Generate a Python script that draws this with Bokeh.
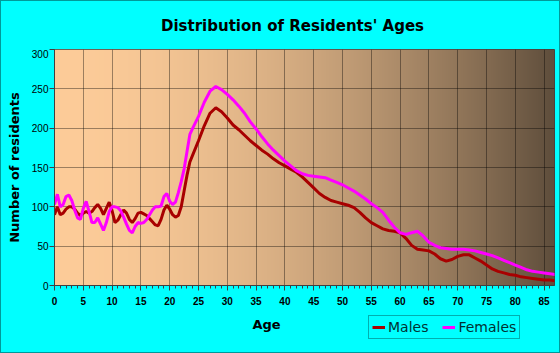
import numpy as np
from bokeh.plotting import figure
from bokeh.layouts import column
from bokeh.models import Label, Legend, LegendItem, FixedTicker, Range1d
from bokeh.embed import file_html
from bokeh.resources import INLINE

# ---- data ----
ages = [0, 0.5, 1, 1.5, 2, 2.5, 3, 3.5, 4, 4.5, 5, 5.5, 6, 6.5, 7, 7.5, 8, 8.5, 9, 9.5,
        10, 10.5, 11, 11.5, 12, 12.5, 13, 13.5, 14, 14.5, 15, 15.5, 16, 16.5, 17, 17.5,
        18, 18.5, 19, 19.5, 20, 20.5, 21, 21.5, 22, 22.5, 23, 23.5,
        24, 25, 26, 27, 28, 29, 30, 31, 32, 33, 34, 35, 36, 37, 38, 39, 40, 41, 42, 43,
        44, 45, 46, 47, 48, 49, 50, 51, 52, 53, 54, 55, 56, 57, 58, 59, 60, 61, 62, 63,
        64, 65, 66, 67, 68, 69, 70, 71, 72, 73, 74, 75, 76, 77, 78, 79, 80, 81, 82, 83,
        84, 85, 86, 87]

males = [90, 100, 90, 92, 97, 100, 100, 97, 92, 89, 92, 94, 92, 94, 99, 103, 98, 90, 98, 106,
         95, 80, 83, 90, 96, 92, 84, 80, 85, 92, 93, 91, 89, 85, 81, 77,
         76, 84, 96, 102, 97, 90, 87, 89, 100, 120, 140, 157,
         166, 184, 203, 219, 226, 221, 213, 204, 198, 191, 184, 178, 172, 167, 161, 156, 152, 148, 144, 138,
         131, 124, 117, 112, 108, 106, 104, 102, 99, 93, 86, 80, 76, 72, 70, 69, 67, 60, 51, 46,
         45, 44, 40, 34, 31, 33, 37, 39, 39, 35, 31, 26, 21, 18, 16, 14, 13, 11, 10, 9,
         8, 7, 7, 6]

females = [103, 116, 100, 103, 113, 115, 108, 96, 86, 84, 98, 107, 94, 80, 80, 86, 78, 70, 80, 94,
           100, 100, 99, 95, 87, 78, 70, 67, 75, 80, 79, 80, 84, 90, 96, 100,
           100, 101, 113, 117, 107, 103, 106, 118, 132, 148, 170, 192,
           200, 215, 233, 247, 253, 249, 243, 236, 228, 219, 208, 199, 189, 180, 172, 165, 158, 152, 146, 142,
           140, 139, 138, 137, 134, 131, 128, 124, 120, 115, 110, 104, 99, 93, 83, 74, 67, 65, 67, 69,
           63, 55, 51, 48, 47, 46, 46, 46, 45, 44, 42, 40, 38, 35, 32, 29, 26, 23, 20, 18,
           17, 16, 15, 14]

x_ticks = [0, 5, 10, 15, 20, 25, 30, 35, 40, 45, 50, 55, 60, 65, 70, 75, 80, 85]
x_minor = list(range(0, 87))
y_ticks = [0, 50, 100, 150, 200, 250, 300]

title_text = "Distribution of Residents' Ages"
x_label = "Age"
y_label = "Number of residents"
series_names = ["Males", "Females"]
series_colors = ["#A80000", "#FF00FF"]

X_END = 86.8
BG = "#00FFFF"
W = 558
LEFT, RIGHT = 53, 5


def blank(h):
    f = figure(frame_width=W - LEFT - RIGHT, frame_height=h,
               min_border_left=LEFT, min_border_right=RIGHT, min_border_top=0, min_border_bottom=0,
               x_range=Range1d(0, W - LEFT - RIGHT), y_range=Range1d(0, h),
               output_backend="svg", toolbar_location=None,
               x_axis_location=None, y_axis_location=None,
               border_fill_color=None, background_fill_color=None)
    f.outline_line_color = None
    f.xgrid.visible = False
    f.ygrid.visible = False
    return f


# ---- title strip (screen x measured from the plot frame's left edge) ----
top = blank(48)
top.add_layout(Label(x=238, y=24, x_units="screen", y_units="screen", text=title_text,
                     text_font="DejaVu Sans", text_font_style="bold", text_font_size="15px",
                     text_align="center", text_baseline="middle", text_color="black"))

# ---- main chart ----
p = figure(frame_width=W - LEFT - RIGHT, frame_height=236,
           min_border_left=LEFT, min_border_right=RIGHT, min_border_top=0, min_border_bottom=28,
           x_range=Range1d(0, X_END), y_range=Range1d(0, 300),
           output_backend="svg", toolbar_location=None,
           border_fill_color=None, background_fill_color=BG)
p.outline_line_color = "#404040"
p.outline_line_width = 1

# background gradient
N = 500
t = np.linspace(0, 1, N) ** 1.8
L = np.array([253, 204, 153], dtype=float)
R = np.array([95, 78, 60], dtype=float)
cols = L + (R - L) * t[:, None]
img = np.zeros((1, N), dtype=np.uint32)
view = img.view(dtype=np.uint8).reshape((1, N, 4))
view[0, :, 0:3] = cols.astype(np.uint8)
view[0, :, 3] = 255
p.image_rgba(image=[img], x=0, y=0, dw=X_END, dh=300, level="image")

for g in (p.xgrid, p.ygrid):
    g.grid_line_color = "black"
    g.grid_line_alpha = 0.38
    g.grid_line_width = 1
p.xgrid.ticker = FixedTicker(ticks=x_ticks)
p.ygrid.ticker = FixedTicker(ticks=y_ticks)

p.xaxis.ticker = FixedTicker(ticks=x_ticks, minor_ticks=x_minor)
p.yaxis.ticker = FixedTicker(ticks=y_ticks)
for ax in (p.xaxis, p.yaxis):
    ax.axis_line_color = "#404040"
    ax.major_tick_line_color = "#404040"
    ax.minor_tick_line_color = "#404040"
    ax.major_tick_in = 0
    ax.minor_tick_in = 0
    ax.major_label_text_color = "black"
p.xaxis.major_tick_out = 5
p.xaxis.minor_tick_out = 3
p.xaxis.major_label_standoff = 6
p.xaxis.major_label_text_font = "Liberation Sans"
p.xaxis.major_label_text_font_style = "bold"
p.xaxis.major_label_text_font_size = "10px"
p.yaxis.major_tick_out = 5
p.yaxis.minor_tick_out = 0
p.yaxis.major_label_standoff = 1
p.yaxis.major_label_text_font = "Liberation Sans"
p.yaxis.major_label_text_font_size = "10px"
p.yaxis.axis_label = y_label
p.yaxis.axis_label_text_font = "DejaVu Sans"
p.yaxis.axis_label_text_font_style = "bold"
p.yaxis.axis_label_text_font_size = "13px"
p.yaxis.axis_label_text_color = "black"
p.yaxis.axis_label_standoff = 7

p.line(ages, males, line_color=series_colors[0], line_width=3)
p.line(ages, females, line_color=series_colors[1], line_width=3)

# ---- bottom strip: axis title + legend ----
bot = blank(39)
bot.add_layout(Label(x=212, y=28, x_units="screen", y_units="screen", text=x_label,
                     text_font="DejaVu Sans", text_font_style="bold", text_font_size="13px",
                     text_align="center", text_baseline="middle", text_color="black"))
# legend swatch renderers, placed outside the strip's visible range
lm = bot.line([-20, -10], [-20, -20], line_color=series_colors[0], line_width=3)
lf = bot.line([-20, -10], [-20, -20], line_color=series_colors[1], line_width=3)
legend = Legend(items=[LegendItem(label=series_names[0], renderers=[lm]),
                       LegendItem(label=series_names[1], renderers=[lf])],
                location=(314, 13), orientation="horizontal",
                border_line_color="#006060", border_line_width=1,
                background_fill_color=BG, background_fill_alpha=1,
                label_text_font="DejaVu Sans", label_text_font_size="14px",
                label_text_color="#003333",
                glyph_width=13, glyph_height=16, label_height=16,
                label_standoff=3, spacing=14, padding=3, margin=0)
bot.add_layout(legend)

lay = column(top, p, bot, spacing=0,
             styles={"border": "1px solid #009999", "background-color": BG})
open("out.html", "w").write(file_html(lay, INLINE))
